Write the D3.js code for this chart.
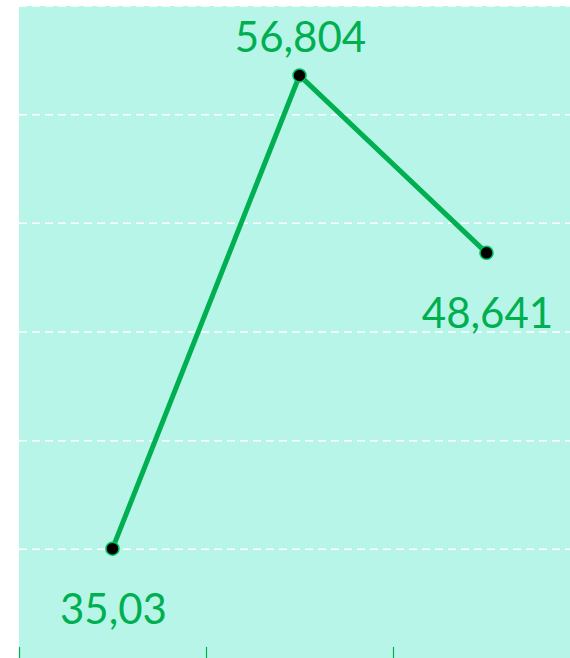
<!DOCTYPE html>
<html>
<head>
<meta charset="utf-8">
<script src="https://cdn.jsdelivr.net/npm/d3@7"></script>
<style>
  body { margin: 0; background: #fff; overflow: hidden; }
  svg { display: block; }
</style>
</head>
<body>
<div id="graph"></div>
<script>
// data
const categories = ["c1", "c2", "c3"]
const values = [35.03, 56.804, 48.641]
const valueLabels = ["35,03", "56,804", "48,641"]
const labelPos = ["below", "above", "below"]
const yTicks = [35, 40, 45, 50, 55, 60]

const W = 570, H = 658
const margin = { top: 6, left: 19 }
const plotW = 561, plotH = 700

const svg = d3.select("#graph")
  .append("svg")
  .attr("width", W)
  .attr("height", H)

const g = svg.append("g")
  .attr("transform", "translate(" + margin.left + "," + margin.top + ")")

// plot background
g.append("rect")
  .attr("width", plotW)
  .attr("height", plotH)
  .attr("fill", "#b8f5e9")

let x = d3.scaleBand()
  .domain(categories)
  .range([0, plotW])

let y = d3.scaleLinear()
  .domain([30, 60])
  .range([652, 0])

// gridlines
g.append("g")
  .selectAll("line")
  .data(yTicks)
  .join("line")
  .attr("x1", 0)
  .attr("x2", plotW)
  .attr("y1", d => y(d))
  .attr("y2", d => y(d))
  .attr("stroke", "#ffffff")
  .attr("stroke-width", 1.5)
  .attr("stroke-dasharray", "8,5")

// x axis ticks at band edges
const edges = categories.map(c => x(c)).concat([plotW])
g.append("g")
  .selectAll("line")
  .data(edges)
  .join("line")
  .attr("x1", d => d + 0.5)
  .attr("x2", d => d + 0.5)
  .attr("y1", 641)
  .attr("y2", 670)
  .attr("stroke", "#00b050")
  .attr("stroke-width", 1.2)

const pts = categories.map((c, i) => ({ c: c, v: values[i], label: valueLabels[i], pos: labelPos[i] }))

const line = d3.line()
  .x(d => x(d.c) + x.bandwidth() / 2)
  .y(d => y(d.v))

g.append("path")
  .datum(pts)
  .attr("d", line)
  .attr("fill", "none")
  .attr("stroke", "#00b050")
  .attr("stroke-width", 5)

g.append("g")
  .selectAll("circle")
  .data(pts)
  .join("circle")
  .attr("cx", d => x(d.c) + x.bandwidth() / 2)
  .attr("cy", d => y(d.v))
  .attr("r", 6.5)
  .attr("fill", "#000")
  .attr("stroke", "#00c060")
  .attr("stroke-width", 1.5)

g.append("g")
  .selectAll("text")
  .data(pts)
  .join("text")
  .attr("x", d => x(d.c) + x.bandwidth() / 2 + 1)
  .attr("y", d => y(d.v) + (d.pos === "above" ? -23 : 75))
  .attr("text-anchor", "middle")
  .attr("font-family", "Lato, 'Open Sans', sans-serif")
  .attr("font-size", 42)
  .attr("fill", "#00b050")
  .text(d => d.label)
</script>
</body>
</html>
